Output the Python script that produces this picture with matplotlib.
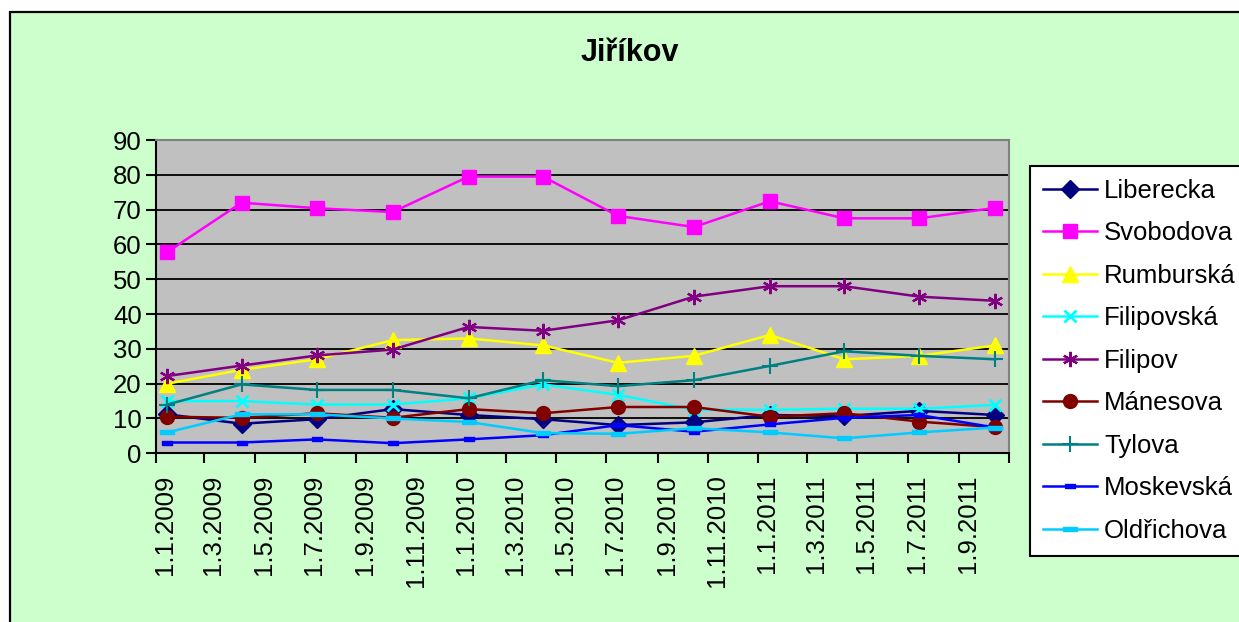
import matplotlib
matplotlib.use('Agg')
import matplotlib.pyplot as plt
import matplotlib.dates as mdates
import matplotlib.transforms as mtransforms
from matplotlib.patches import Rectangle
import datetime as dt

plt.rcParams['font.family'] = ['Liberation Sans', 'DejaVu Sans']

# ---- data ----
dates = ["15.1.2009", "15.4.2009", "15.7.2009", "15.10.2009",
         "15.1.2010", "15.4.2010", "15.7.2010", "15.10.2010",
         "15.1.2011", "15.4.2011", "15.7.2011", "15.10.2011"]

liberecka = [11.2, 8.5, 9.8, 12.7, 11.0, 9.8, 8.1, 8.9, 11.0, 10.7, 12.2, 11.0]
svobodova = [57.8, 72.0, 70.4, 69.3, 79.5, 79.5, 68.2, 65.0, 72.4, 67.5, 67.5, 70.5]
rumburska = [20.0, 24.0, 27.0, 32.5, 33.0, 31.0, 26.0, 28.0, 34.0, 27.0, 28.0, 31.0]
filipovska = [15.0, 15.0, 14.0, 14.0, 15.8, 19.8, 16.8, 12.5, 12.5, 12.8, 12.8, 13.9]
filipov = [22.2, 25.2, 28.1, 29.8, 36.3, 35.2, 38.2, 45.0, 48.0, 48.0, 45.0, 43.8]
manesova = [10.5, 10.2, 11.5, 10.2, 12.7, 11.5, 13.3, 13.3, 10.5, 11.5, 9.1, 7.5]
tylova = [14.0, 19.8, 18.2, 18.2, 15.8, 21.0, 19.3, 21.0, 25.1, 29.3, 28.0, 27.0]
moskevska = [3.1, 3.1, 4.0, 2.9, 4.0, 5.2, 8.1, 6.2, 8.3, 10.2, 11.0, 7.4]
oldrichova = [6.0, 11.2, 11.2, 10.0, 9.0, 5.8, 5.6, 7.2, 6.0, 4.3, 6.0, 7.4]

series_names = ["Liberecka", "Svobodova", "Rumburská", "Filipovská", "Filipov",
                "Mánesova", "Tylova", "Moskevská", "Oldřichova"]
series_values = [liberecka, svobodova, rumburska, filipovska, filipov,
                 manesova, tylova, moskevska, oldrichova]

tick_dates = ["1.1.2009", "1.3.2009", "1.5.2009", "1.7.2009", "1.9.2009", "1.11.2009",
              "1.1.2010", "1.3.2010", "1.5.2010", "1.7.2010", "1.9.2010", "1.11.2010",
              "1.1.2011", "1.3.2011", "1.5.2011", "1.7.2011", "1.9.2011", "1.11.2011"]
tick_labels = tick_dates[:-1] + [""]

title = "Jiříkov"

# ---- styles ----
short_bar = [(-1, -0.45), (1, -0.45), (1, 0.45), (-1, 0.45), (-1, -0.45)]
long_bar = [(-1, -0.35), (1, -0.35), (1, 0.35), (-1, 0.35), (-1, -0.35)]
styles = [
    dict(color='#000080', marker='D', ms=9, mfc='#000080', mec='#000080'),
    dict(color='#FF00FF', marker='s', ms=10, mfc='#FF00FF', mec='#FF00FF'),
    dict(color='#FFFF00', marker='^', ms=12, mfc='#FFFF00', mec='#FFFF00'),
    dict(color='#00FFFF', marker='x', ms=9, mew=2, mfc='#00FFFF', mec='#00FFFF'),
    dict(color='#800080', marker=(6, 2, 0), ms=11, mew=1.6, mec='#800080'),
    dict(color='#800000', marker='o', ms=10, mfc='#800000', mec='#800000'),
    dict(color='#008080', marker='+', ms=11, mew=1.5, mec='#008080'),
    dict(color='#0000FF', marker=short_bar, ms=7, mfc='#0000FF', mec='#0000FF'),
    dict(color='#00CCFF', marker=long_bar, ms=10, mfc='#00CCFF', mec='#00CCFF'),
]

def parse(s):
    d, m, y = s.split('.')
    return dt.datetime(int(y), int(m), int(d))

x = [parse(s) for s in dates]
tx = [parse(s) for s in tick_dates]

W, H = 1239, 622
fig = plt.figure(figsize=(W / 100, H / 100), dpi=100)
fig.patch.set_facecolor('white')
fig.add_artist(Rectangle((9.5 / W, -0.2), 1.2, 1 - 12 / H + 0.2, transform=fig.transFigure,
                         facecolor='#CCFFCC', edgecolor='black', lw=1.6, zorder=-5))

left, right, top, bottom = 155.7, 1009.3, 140.0, 453.3
ax = fig.add_axes([left / W, 1 - bottom / H, (right - left) / W, (bottom - top) / H])
ax.set_facecolor('#C0C0C0')

handles = []
for name, vals, st in zip(series_names, series_values, styles):
    h, = ax.plot(x, vals, lw=1.8, label=name, zorder=3, **st)
    handles.append(h)

ax.set_ylim(0, 90)
ax.set_yticks(range(0, 91, 10))
ax.set_xlim(tx[0], tx[-1])
ax.set_xticks(tx)
ax.set_xticklabels(tick_labels, rotation=90)

ax.grid(axis='y', color='black', lw=1.3, zorder=1)
ax.grid(axis='x', visible=False)
ax.set_axisbelow(True)

for s in ['top', 'right']:
    ax.spines[s].set_color('#808080')
    ax.spines[s].set_linewidth(1.5)
for s in ['left', 'bottom']:
    ax.spines[s].set_color('black')
    ax.spines[s].set_linewidth(1.5)

FS = 18.5
ax.tick_params(axis='x', direction='out', length=7, width=1.5, pad=8, labelsize=FS)
ax.tick_params(axis='y', direction='out', length=7, width=1.5, pad=3, labelsize=FS)

offset = mtransforms.ScaledTranslation(9 / 100, 0, fig.dpi_scale_trans)
for lab in ax.get_xticklabels():
    lab.set_transform(lab.get_transform() + offset)

fig.text(630 / W, 1 - 53 / H, title, ha='center', va='center', fontsize=22, fontweight='bold')

leg = fig.legend(handles=handles, loc='upper left', bbox_to_anchor=(1030 / W, 1 - 166 / H),
                 bbox_transform=fig.transFigure, fontsize=FS, frameon=True, fancybox=False,
                 edgecolor='black', facecolor='white', framealpha=1, borderpad=0.5,
                 labelspacing=0.72, handlelength=2.1, handletextpad=0.28, borderaxespad=0)
leg.get_frame().set_linewidth(1.5)

fig.savefig('out.png', dpi=100, facecolor=fig.get_facecolor())
